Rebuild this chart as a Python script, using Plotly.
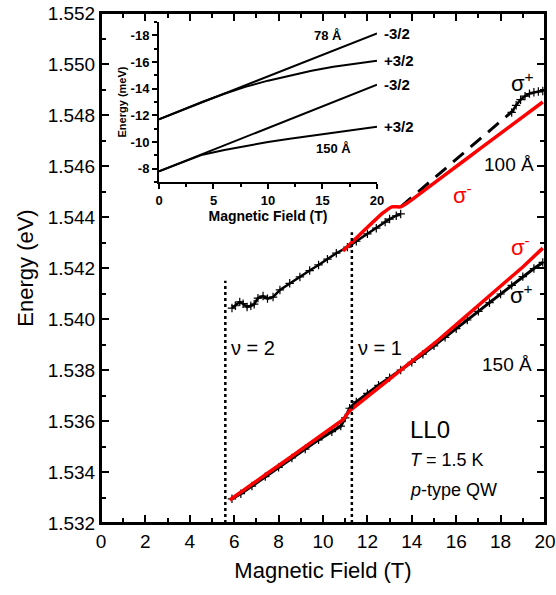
import plotly.graph_objects as go

# ---------------- data ----------------
# 100 A, sigma+ (crosses)
b100_x = [5.9, 6.05, 6.25, 6.4, 6.58, 6.75, 6.9, 7.07, 7.3, 7.5, 7.75, 8.06, 8.5, 8.96, 9.4, 9.8,
          10.2, 10.6, 11.1, 11.5, 12.0, 12.4, 12.8, 13.0, 13.3, 13.5]
b100_y = [1.54043, 1.54052, 1.54067, 1.54060, 1.54047, 1.54052, 1.54058, 1.54082, 1.54090, 1.54080,
          1.54086, 1.54114, 1.54140, 1.54165, 1.54190, 1.54212, 1.54235, 1.54258, 1.54282, 1.54305,
          1.54334, 1.54356, 1.54380, 1.54392, 1.54405, 1.54412]
# 100 A, sigma+ (dashed continuation)
d100_x = [13.5, 15.0, 16.5, 18.0, 18.6]
d100_y = [1.54440, 1.54552, 1.54664, 1.54775, 1.54820]
# 100 A, sigma+ (crosses at high field)
e100_x = [18.5, 18.7, 18.9, 19.1, 19.3, 19.5, 19.7, 19.9]
e100_y = [1.54810, 1.54838, 1.54860, 1.54874, 1.54884, 1.54889, 1.54892, 1.54894]
# 100 A, sigma- (red)
r100_x = [10.9, 11.5, 12.2, 12.7, 13.1, 13.5, 13.8, 15.0, 16.0, 17.0, 18.0, 19.0, 19.9]
r100_y = [1.54267, 1.54318, 1.54376, 1.54416, 1.54440, 1.54440, 1.54455, 1.54533, 1.54598,
          1.54663, 1.54728, 1.54793, 1.54851]
# 150 A, sigma+ (crosses)
b150_x = [5.9, 6.3, 6.8, 7.4, 8.0, 8.6, 9.2, 9.8, 10.4, 10.8, 11.0, 11.2, 11.5, 12.0, 12.5, 13.0,
          13.5, 14.0, 14.5, 15.0, 15.5, 16.0, 16.5, 17.0, 17.5, 18.0, 18.5, 19.0, 19.5, 19.9]
b150_y = [1.53295, 1.53315, 1.53345, 1.53382, 1.53418, 1.53455, 1.53490, 1.53526, 1.53558, 1.53580,
          1.53612, 1.53650, 1.53675, 1.53708, 1.53740, 1.53770, 1.53800, 1.53830, 1.53862, 1.53895,
          1.53928, 1.53962, 1.53996, 1.54030, 1.54064, 1.54098, 1.54132, 1.54166, 1.54198, 1.54222]
# 150 A, sigma- (red)
r150_x = [5.8, 6.5, 7.5, 8.5, 9.5, 10.5, 10.9, 11.2, 12.0, 13.0, 14.0, 15.0, 16.0, 17.0, 18.0,
          19.0, 19.9]
r150_y = [1.53290, 1.53335, 1.53395, 1.53456, 1.53517, 1.53578, 1.53605, 1.53640, 1.53695,
          1.53762, 1.53830, 1.53903, 1.53978, 1.54053, 1.54129, 1.54204, 1.54278]
# filling factor markers (field, top energy of dotted line)
nu_x = [5.6, 11.3]
nu_top = [1.5415, 1.5434]
nu_labels = ["\u03bd = 2", "\u03bd = 1"]

# inset: calculated hole levels (meV)
in_x = [0, 2, 4, 6, 8, 10, 12, 14, 16, 18, 20]
h78_m32 = [-11.7, -12.35, -12.99, -13.64, -14.28, -14.93, -15.57, -16.22, -16.86, -17.51, -18.15]
h78_p32 = [-11.7, -12.37, -13.02, -13.62, -14.15, -14.6, -15.0, -15.35, -15.65, -15.9, -16.1]
h150_m32 = [-7.8, -8.45, -9.1, -9.75, -10.4, -11.05, -11.7, -12.35, -13.0, -13.65, -14.3]
h150_p32 = [-7.8, -8.45, -9.05, -9.4, -9.72, -10.0, -10.24, -10.47, -10.7, -10.93, -11.15]
inset_labels = ["-3/2", "+3/2", "-3/2", "+3/2"]

main_xticks = [0, 2, 4, 6, 8, 10, 12, 14, 16, 18, 20]
main_yticks = [1.532, 1.534, 1.536, 1.538, 1.540, 1.542, 1.544, 1.546, 1.548, 1.550, 1.552]
inset_xticks = [0, 5, 10, 15, 20]
inset_yticks = [-8, -10, -12, -14, -16, -18]
X_RANGE = [0, 20]
Y_RANGE = [1.532, 1.552]

FONT = "Liberation Sans, Arial, sans-serif"
RED = "#ff0000"

fig = go.Figure()

cross = dict(symbol="cross-thin", size=6, line=dict(color="black", width=1.2))

# 100 A
fig.add_trace(go.Scatter(x=b100_x, y=b100_y, mode="lines+markers", marker=cross,
                         line=dict(color="black", width=2.5), showlegend=False))
fig.add_trace(go.Scatter(x=d100_x, y=d100_y, mode="lines",
                         line=dict(color="black", width=3, dash="14px,9px"), showlegend=False))
fig.add_trace(go.Scatter(x=e100_x, y=e100_y, mode="lines+markers", marker=cross,
                         line=dict(color="black", width=2.5), showlegend=False))
fig.add_trace(go.Scatter(x=r100_x, y=r100_y, mode="lines", line_shape="spline",
                         line=dict(color=RED, width=3.5, smoothing=0.6), showlegend=False))
# 150 A
fig.add_trace(go.Scatter(x=b150_x, y=b150_y, mode="lines+markers", marker=cross,
                         line=dict(color="black", width=3), showlegend=False))
fig.add_trace(go.Scatter(x=r150_x, y=r150_y, mode="lines",
                         line=dict(color=RED, width=3.5), showlegend=False))

# dotted filling-factor lines
for xv, yt in zip(nu_x, nu_top):
    fig.add_trace(go.Scatter(x=[xv, xv], y=[Y_RANGE[0], yt], mode="lines",
                             line=dict(color="black", width=2.5, dash="dot"), showlegend=False))

# inset traces
inset_curves = [h78_m32, h78_p32, h150_m32, h150_p32]
for ys in inset_curves:
    fig.add_trace(go.Scatter(x=in_x, y=ys, mode="lines", xaxis="x2", yaxis="y2",
                             line=dict(color="black", width=2), showlegend=False))

# empty trace that activates the top/right frame axes
fig.add_trace(go.Scatter(x=[], y=[], xaxis="x3", yaxis="y3", showlegend=False, hoverinfo="skip"))

# frame around the main plot area
fig.add_shape(type="rect", xref="x domain", yref="y domain", x0=0, x1=1, y0=0, y1=1,
              line=dict(color="black", width=2), fillcolor="rgba(0,0,0,0)", layer="above")

ann = []
def A(text, x, y, size, color="black", xanchor="center", xref="x", yref="y", bold=False):
    if bold:
        text = "<b>" + text + "</b>"
    ann.append(dict(text=text, x=x, y=y, xref=xref, yref=yref, showarrow=False,
                    xanchor=xanchor, yanchor="middle",
                    font=dict(family=FONT, size=size, color=color)))

A(nu_labels[0], 5.75, 1.53886, 20, xanchor="left")
A(nu_labels[1], 11.5, 1.53886, 20, xanchor="left")
A("100 Å", 19.6, 1.54604, 19, xanchor="right")
A("150 Å", 19.5, 1.5382, 19, xanchor="right")
A("\u03c3<sup>+</sup>", 19.0, 1.5493, 22)
A("\u03c3<sup>-</sup>", 16.3, 1.54490, 22, color=RED)
A("\u03c3<sup>-</sup>", 18.9, 1.54286, 22, color=RED)
A("\u03c3<sup>+</sup>", 18.95, 1.5410, 22)
A("LL0", 13.85, 1.53565, 24, xanchor="left")
A("<i>T</i> = 1.5 K", 13.85, 1.53447, 18, xanchor="left")
A("<i>p</i>-type QW", 13.85, 1.53329, 18, xanchor="left")
# inset labels
A("78 Å", 15.5, -18.0, 13, xref="x2", yref="y2", bold=True)
A("150 Å", 16.0, -9.5, 13, xref="x2", yref="y2", bold=True)
# level labels sit just right of the inset's x-range -> paper x coordinate
for lab, ys in zip(inset_labels, inset_curves):
    A(lab, 0.632, ys[-1], 15, xref="paper", yref="y2", xanchor="left", bold=True)

main_common = dict(showgrid=False, zeroline=False, automargin=False,
                   showline=True, linewidth=2, linecolor="black",
                   ticks="inside", ticklen=8, tickwidth=2, tickcolor="black")

fig.update_layout(
    width=556, height=595,
    margin=dict(l=101, r=11, t=13, b=72),
    paper_bgcolor="white", plot_bgcolor="white",
    font=dict(family=FONT, color="black"),
    annotations=ann,
    xaxis=dict(range=X_RANGE, tickvals=main_xticks, ticklabeloverflow="allow",
               minor=dict(dtick=1, ticks="inside", ticklen=5, tickwidth=2, tickcolor="black"),
               tickfont=dict(size=19, family=FONT),
               title=dict(text="Magnetic Field (T)", font=dict(size=22, family=FONT), standoff=12),
               **main_common),
    yaxis=dict(range=Y_RANGE, tickvals=main_yticks, tickformat=".3f", ticklabeloverflow="allow",
               minor=dict(dtick=0.001, ticks="inside", ticklen=5, tickwidth=2, tickcolor="black"),
               tickfont=dict(size=19, family=FONT),
               title=dict(text="Energy (eV)", font=dict(size=22, family=FONT), standoff=8),
               **main_common),
    # top / right frame with inward ticks
    xaxis3=dict(range=X_RANGE, tickvals=main_xticks, overlaying="x", side="top", anchor="y3",
                showticklabels=False,
                minor=dict(dtick=1, ticks="inside", ticklen=5, tickwidth=2, tickcolor="black"),
                **main_common),
    yaxis3=dict(range=Y_RANGE, tickvals=main_yticks, overlaying="y", side="right", anchor="x3",
                showticklabels=False,
                minor=dict(dtick=0.001, ticks="inside", ticklen=5, tickwidth=2, tickcolor="black"),
                **main_common),
    xaxis2=dict(domain=[0.1306, 0.6216], anchor="y2", range=[0, 20], tickvals=inset_xticks,
                showgrid=False, zeroline=False, showline=True, linewidth=2, linecolor="black",
                automargin=False,
                ticks="outside", ticklen=5, tickwidth=1.5, tickcolor="black",
                minor=dict(dtick=2.5, ticks="outside", ticklen=3, tickwidth=1.5, tickcolor="black"),
                tickfont=dict(size=13, family=FONT, weight="bold"),
                title=dict(text="<b>Magnetic Field (T)</b>", font=dict(size=14, family=FONT), standoff=2)),
    yaxis2=dict(domain=[0.6686, 0.9824], anchor="x2", range=[-7.0, -19.0],
                tickvals=inset_yticks, ticktext=[str(v) for v in inset_yticks],
                showgrid=False, zeroline=False, showline=True, linewidth=2, linecolor="black",
                automargin=False,
                ticks="outside", ticklen=5, tickwidth=1.5, tickcolor="black",
                minor=dict(dtick=1, ticks="outside", ticklen=3, tickwidth=1.5, tickcolor="black"),
                tickfont=dict(size=13, family=FONT, weight="bold"),
                title=dict(text="<b>Energy (meV)</b>", font=dict(size=11, family=FONT), standoff=2)),
)

# remove the browser's default 8 px body margin so the figure fills the window exactly
fig.write_html("out.html", config={"displayModeBar": False},
               post_script="document.body.style.margin='0';document.body.style.overflow='hidden';")
